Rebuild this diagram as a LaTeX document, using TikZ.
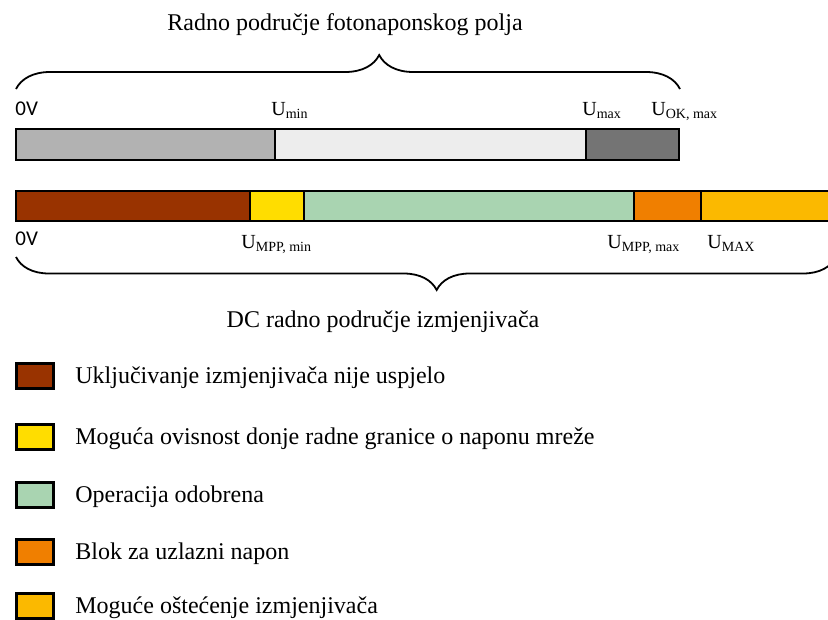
\documentclass[tikz,border=0pt]{standalone}
\usepackage{fontspec}
\setmainfont{Liberation Serif}
\newfontfamily\zerovfont{Carlito}
\usetikzlibrary{decorations.pathreplacing}

\definecolor{pvlow}{HTML}{B2B2B2}
\definecolor{pvok}{HTML}{EDEDED}
\definecolor{pvhigh}{HTML}{747474}
\definecolor{invfail}{HTML}{993300}
\definecolor{invgrid}{HTML}{FFDD00}
\definecolor{invok}{HTML}{A9D4B1}
\definecolor{invblock}{HTML}{F07F00}
\definecolor{invdmg}{HTML}{FBB900}

\newcommand{\ulab}[1]{{\fontsize{20}{22}\selectfont U\raisebox{-3pt}{\fontsize{14}{16}\selectfont #1}}}

\tikzset{every picture/.style={line width=0.75pt}}
\tikzset{
  barseg/.style={draw=black, line width=2pt},
  legbox/.style={draw=black, line width=3pt},
  curly/.style={decorate, decoration={brace, amplitude=#1}, line width=1.8pt},
  bigtxt/.style={font=\fontsize{24}{28}\selectfont, inner sep=0pt},
  zerov/.style={font=\zerovfont\fontsize{21}{24}\selectfont, inner sep=0pt, anchor=base west},
  ulabel/.style={inner sep=0pt, anchor=base west}
}

\begin{document}
\begin{tikzpicture}[x=1pt,y=-1pt]
  \useasboundingbox (0,0) rectangle (828,619);

  % radno podrucje polja
  \node[bigtxt, anchor=base] (pvtitle) at (345,30) {Radno područje fotonaponskog polja};
  \draw[curly={34pt}, decoration={aspect=0.547}] (16,89) -- (680,89);
  \node[zerov] (pvzero) at (15,115) {0V};
  \node[ulabel] (umin) at (271,115) {\ulab{min}};
  \node[ulabel] (umax) at (582,115) {\ulab{max}};
  \node[ulabel] (uokmax) at (651,115) {\ulab{OK, max}};
  \draw[barseg, fill=pvlow] (16,129) rectangle (275,160);
  \draw[barseg, fill=pvok] (275,129) rectangle (586,160);
  \draw[barseg, fill=pvhigh] (586,129) rectangle (679,160);

  % DC podrucje izmjenjivaca
  \draw[barseg, fill=invfail] (16,191) rectangle (250,221);
  \draw[barseg, fill=invgrid] (250,191) rectangle (304,221);
  \draw[barseg, fill=invok] (304,191) rectangle (634,221);
  \draw[barseg, fill=invblock] (634,191) rectangle (701,221);
  \draw[barseg, fill=invdmg] (701,191) rectangle (845,221);
  \node[zerov] (invzero) at (15,245) {0V};
  \node[ulabel] (umppmin) at (241,248) {\ulab{MPP, min}};
  \node[ulabel] (umppmax) at (607,248) {\ulab{MPP, max}};
  \node[ulabel] (umaxinv) at (707,248) {\ulab{MAX}};
  \draw[curly={33pt}, decoration={aspect=0.487}] (836,257) -- (16,257);
  \node[bigtxt, anchor=base] (invtitle) at (383,327) {DC radno područje izmjenjivača};

  % legenda
  \foreach \yy/\col/\txt [count=\i] in {
      362/invfail/Uključivanje izmjenjivača nije uspjelo,
      423/invgrid/Moguća ovisnost donje radne granice o naponu mreže,
      481/invok/Operacija odobrena,
      538/invblock/Blok za uzlazni napon,
      592/invdmg/Moguće oštećenje izmjenjivača}{
    \draw[legbox, fill=\col] (16.5,\yy+1.5) rectangle (53.5,\yy+26.5);
    \node[bigtxt, anchor=base west] (leg\i) at (75,\yy+21) {\txt};
  }
\end{tikzpicture}
\end{document}
